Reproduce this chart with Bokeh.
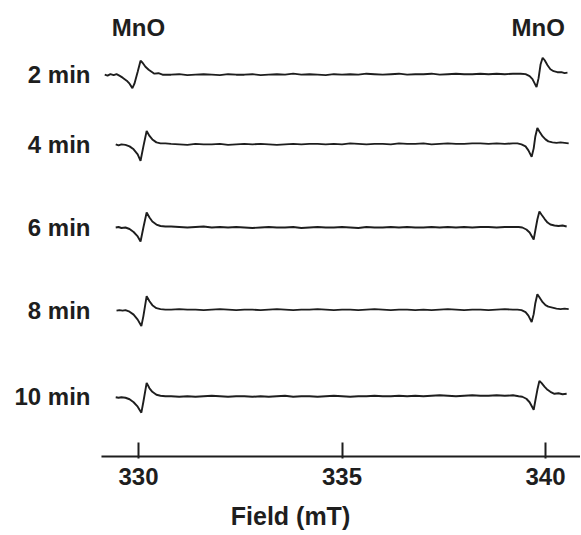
from bokeh.plotting import figure
from bokeh.models import Range1d, FixedTicker
from bokeh.core.properties import value
from bokeh.embed import file_html
from bokeh.resources import INLINE

# ---------------- data ----------------
labels = ["2 min", "4 min", "6 min", "8 min", "10 min"]
offsets = [383.5, 313.5, 230.0, 147.0, 60.0]   # vertical stacking of the spectra
mno_field = [330.0, 339.82]
mno_label = ["MnO", "MnO"]
ticks = [330, 335, 340]

# shared baseline section (field, mT)
mid_field = [330.8, 331.0, 331.2, 331.4, 331.6, 331.8, 332.0, 332.2, 332.4, 332.6,
             332.8, 333.0, 333.2, 333.4, 333.6, 333.8, 334.0, 334.2, 334.4, 334.6,
             334.8, 335.0, 335.2, 335.4, 335.6, 335.8, 336.0, 336.2, 336.4, 336.6,
             336.8, 337.0, 337.2, 337.4, 337.6, 337.8, 338.0, 338.2, 338.4, 338.6,
             338.8, 339.0, 339.2]

# 2 min
left_f_2 = [329.17, 329.24, 329.31, 329.39, 329.46, 329.53, 329.61, 329.71, 329.78, 329.85,
            329.90, 329.98, 330.05, 330.10, 330.17, 330.25, 330.32, 330.39, 330.49, 330.59]
left_i_2 = [0, -1, 0.5, -0.5, 0.5, -1, -3, -6, -9, -13.5,
            -9, 3, 14, 12, 8, 5, 3, 1, 1.5, 0]
mid_i_2 = [0, 0.5, -0.5, 0, 0.5, 0, -0.5, 0.5, 0, 0,
           0.5, -0.5, 0, 0.5, 0, 1, 0, 0.5, 0, -0.5,
           0.5, 0, 0.5, 0, 1, 0.5, 0, 0.5, 1, 0,
           0.5, 0.5, 1, 0, 0.5, 1, 0.5, 0.5, 1, 0.5,
           1, 0.5, 1]
right_f_2 = [339.39, 339.51, 339.61, 339.68, 339.78, 339.83, 339.88, 339.93, 339.98, 340.05,
             340.12, 340.20, 340.29, 340.39, 340.47, 340.54]
right_i_2 = [1, 0.5, -1.5, -4.5, -12.5, -3.5, 10.5, 17, 14.5, 9.5,
             5.5, 3.5, 2.5, 2.5, 1.5, 2]

# 4 min
left_f_4 = [329.44, 329.51, 329.58, 329.68, 329.78, 329.88, 329.98, 330.05, 330.12, 330.20,
            330.27, 330.34, 330.44, 330.54, 330.66]
left_i_4 = [0, -1, 0, -0.5, -2, -5, -10, -16.5, -2, 13.5,
            8.5, 5, 2, 1, 1]
mid_i_4 = [0.5, 0, -0.5, 0.5, 0, 0, 0.5, -0.5, 0, 0.5,
           0, 0.5, 0, -0.5, 0, 0.5, 0, 0.5, 0.5, 0,
           0.5, 0, 1, 0.5, 0, 0.5, 0.5, 0, 1, 0.5,
           0.5, 1, 0, 0.5, 1, 0.5, 0.5, 1, 1, 0.5,
           1, 0.5, 1]
right_f_4 = [339.31, 339.41, 339.51, 339.58, 339.66, 339.71, 339.75, 339.80, 339.85, 339.93,
             340.00, 340.07, 340.17, 340.27, 340.37, 340.47, 340.57]
right_i_4 = [1, 0, -2, -6, -12.5, -4, 8, 16.5, 13, 8,
             5, 3, 2, 1.5, 2, 1.5, 1]

# 6 min
left_f_6 = [329.44, 329.51, 329.58, 329.68, 329.78, 329.88, 329.98, 330.05, 330.12, 330.20,
            330.27, 330.34, 330.44, 330.54, 330.66]
left_i_6 = [0, 0.5, -0.5, 0, -1.5, -4.5, -9, -14, 0, 15,
            10, 6, 3, 1.5, 1]
mid_i_6 = [1, 0.5, 0, 0.5, 1, 0, 0.5, 0, 0.5, 0,
           -0.5, 0, 0.5, 0, 0, 0.5, -0.5, 0, 0.5, 0,
           0, 0.5, 0, -0.5, 0.5, 0, 0, 0.5, 0, 0.5,
           0, 0, 0.5, 0, 0.5, 0, 0.5, 0, 0.5, 0.5,
           0, 0.5, 0.5]
right_f_6 = [339.34, 339.43, 339.53, 339.61, 339.71, 339.75, 339.80, 339.85, 339.90, 339.98,
             340.05, 340.12, 340.22, 340.32, 340.42, 340.52]
right_i_6 = [0.5, 0, -2, -5, -12, -3, 8, 16, 13, 8.5,
             5, 3, 2, 1.5, 2, 1]

# 8 min
left_f_8 = [329.46, 329.53, 329.61, 329.68, 329.78, 329.88, 329.98, 330.07, 330.12, 330.20,
            330.27, 330.34, 330.44, 330.54, 330.66]
left_i_8 = [-0.5, 0, -0.5, 0, -1.5, -4.5, -9.5, -16, -6, 14,
            9, 5, 2, 1, 0.5]
mid_i_8 = [0.5, 1, 0.5, 0.5, 0, 0.5, 1, 0.5, 0, 0.5,
           0.5, 0, 0.5, 1, 0.5, 0, 0.5, 0.5, 1, 0.5,
           0, 0.5, 0.5, 0, 0.5, 1, 0.5, 0, 0.5, 0.5,
           0, 0.5, 0, 0.5, 1, 0.5, 0, 0.5, 0.5, 0,
           0.5, 1, 0.5]
right_f_8 = [339.31, 339.41, 339.51, 339.58, 339.66, 339.71, 339.75, 339.80, 339.85, 339.93,
             340.00, 340.07, 340.17, 340.27, 340.37, 340.47, 340.57]
right_i_8 = [0.5, 0, -2, -5.5, -12, -4, 7, 16, 13, 8,
             5, 3.5, 2.5, 1.5, 1, 1.5, 1]

# 10 min
left_f_10 = [329.44, 329.51, 329.58, 329.68, 329.78, 329.88, 329.98, 330.07, 330.12, 330.20,
             330.27, 330.34, 330.44, 330.54, 330.66]
left_i_10 = [-0.5, -1, -0.5, -1, -2.5, -5.5, -10, -16, -5, 14,
             8.5, 5, 2, 1, 0.5]
mid_i_10 = [0.5, 0, 0.5, 0, 0.5, 1, 0.5, 0, 0.5, 0.5,
            0, 0.5, 0, 0.5, 1, 0, 0.5, 0.5, 0, 0.5,
            1, 0.5, 0, 0.5, 0.5, 1, 0.5, 0.5, 1, 0.5,
            1, 0.5, 1, 1.5, 1, 0.5, 1, 1.5, 1, 1,
            1.5, 1, 1.5]
right_f_10 = [339.34, 339.43, 339.53, 339.61, 339.71, 339.75, 339.80, 339.85, 339.90, 339.98,
              340.05, 340.12, 340.22, 340.32, 340.42, 340.52]
right_i_10 = [0.5, 0, -2, -5.5, -13, -4, 7, 16, 14, 10,
              7, 5, 3, 3.5, 2.5, 3]

spectra = [
    (left_f_2, left_i_2, mid_i_2, right_f_2, right_i_2),
    (left_f_4, left_i_4, mid_i_4, right_f_4, right_i_4),
    (left_f_6, left_i_6, mid_i_6, right_f_6, right_i_6),
    (left_f_8, left_i_8, mid_i_8, right_f_8, right_i_8),
    (left_f_10, left_i_10, mid_i_10, right_f_10, right_i_10),
]

# ---------------- figure ----------------
FONT = value("Liberation Sans")
INK = "#1e1e1e"

p = figure(width=580, height=532,
           x_range=Range1d(326.609, 340.86), y_range=Range1d(-2, 458),
           output_backend="svg", toolbar_location=None, y_axis_location=None,
           min_border_left=0, min_border_right=0, min_border_top=0,
           min_border_bottom=72)
p.grid.visible = False
p.outline_line_color = None
p.background_fill_color = "white"
p.border_fill_color = "white"

for (lf, li, mi, rf, ri), off in zip(spectra, offsets):
    xs = lf + mid_field + rf
    ys = [v + off for v in (li + mi + ri)]
    p.line(xs, ys, line_color=INK, line_width=1.9)

# spectrum labels
label_x = [328.82] * len(labels)
p.text(x=label_x, y=offsets, text=labels, text_font=FONT, text_font_style="bold",
       text_font_size="24px", text_align="right", text_baseline="middle",
       text_color=INK)

# MnO markers
p.text(x=mno_field, y=[431, 431], text=mno_label, text_font=FONT,
       text_font_style="bold", text_font_size="24px", text_align="center",
       text_baseline="middle", text_color=INK)

# visible part of the field axis line
p.segment(x0=[329.09], y0=[0], x1=[340.86], y1=[0], line_color=INK, line_width=2)

ax = p.xaxis[0]
ax.ticker = FixedTicker(ticks=ticks)
ax.axis_line_color = None
ax.major_tick_in = 16
ax.major_tick_out = 0
ax.major_tick_line_width = 2
ax.major_tick_line_color = INK
ax.minor_tick_line_color = None
ax.major_label_text_font = "Liberation Sans"
ax.major_label_text_font_style = "bold"
ax.major_label_text_font_size = "24px"
ax.major_label_text_color = INK
ax.major_label_standoff = 9
ax.axis_label = "Field (mT)"
ax.axis_label_text_font = "Liberation Sans"
ax.axis_label_text_font_style = "bold"
ax.axis_label_text_font_size = "25px"
ax.axis_label_text_color = INK
ax.axis_label_standoff = 14

open("out.html", "w").write(file_html(p, INLINE))
